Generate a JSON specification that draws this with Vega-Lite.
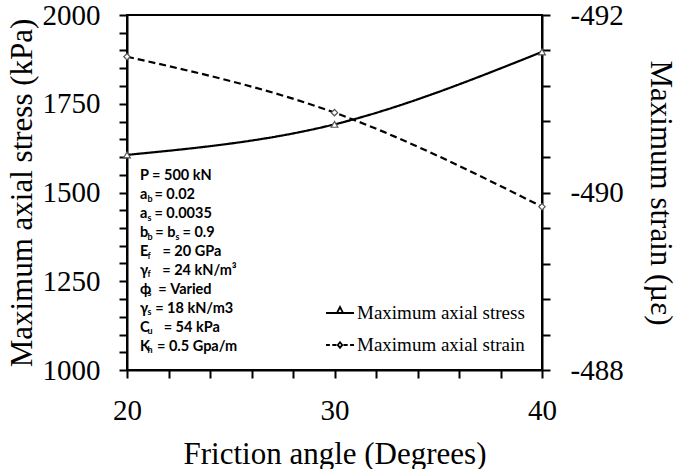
{
  "$schema": "https://vega.github.io/schema/vega-lite/v6.json",
  "width": 415,
  "height": 355,
  "autosize": {"type": "none"},
  "padding": {"left": 127, "top": 15, "right": 138, "bottom": 99},
  "background": "white",
  "config": {
    "view": {"stroke": "black", "strokeWidth": 2},
    "axis": {
      "grid": false,
      "domainColor": "black",
      "domainWidth": 2,
      "tickColor": "black",
      "tickWidth": 2,
      "tickSize": 8,
      "labelFont": "Liberation Serif",
      "labelFontSize": 29,
      "labelColor": "black",
      "labelFlush": false,
      "labelOverlap": false,
      "titleFont": "Liberation Serif",
      "titleFontSize": 31,
      "titleFontWeight": "normal",
      "titleColor": "black"
    }
  },
  "data": {
    "values": [
      {"angle": 20, "series": "Maximum axial stress", "value": 1606},
      {"angle": 30, "series": "Maximum axial stress", "value": 1692},
      {"angle": 40, "series": "Maximum axial stress", "value": 1896},
      {"angle": 20, "series": "Maximum axial strain", "value": -491.53},
      {"angle": 30, "series": "Maximum axial strain", "value": -490.9},
      {"angle": 40, "series": "Maximum axial strain", "value": -489.84}
    ]
  },
  "layer": [
    {
      "layer": [
        {
          "transform": [{"filter": "datum.series === 'Maximum axial stress'"}],
          "mark": {"type": "line", "interpolate": "monotone", "stroke": "black", "strokeWidth": 2.2},
          "encoding": {
            "x": {
              "field": "angle", "type": "quantitative", "title": "Friction angle (Degrees)",
              "scale": {"domain": [20, 40], "nice": false, "zero": false},
              "axis": {"values": [20, 22, 24, 26, 28, 30, 32, 34, 36, 38, 40], "labelExpr": "datum.value % 10 === 0 ? datum.label : ''", "labelPadding": 18, "titlePadding": 14}
            },
            "y": {
              "field": "value", "type": "quantitative", "title": "Maximum axial stress (kPa)",
              "scale": {"domain": [1000, 2000], "nice": false, "zero": false},
              "axis": {"orient": "left", "format": "d", "values": [1000, 1050, 1100, 1150, 1200, 1250, 1300, 1350, 1400, 1450, 1500, 1550, 1600, 1650, 1700, 1750, 1800, 1850, 1900, 1950, 2000], "labelExpr": "datum.value % 250 === 0 ? datum.label : ''", "labelPadding": 19, "titlePadding": 4}
            },
            "strokeDash": {
              "field": "series", "type": "nominal",
              "scale": {"domain": ["Maximum axial stress", "Maximum axial strain"], "range": [[1, 0], [1, 0]]},
              "legend": {
                "orient": "none", "legendX": 198, "legendY": 283, "title": null,
                "symbolSize": 784, "symbolStrokeWidth": 1.8, "symbolStrokeColor": "black", "symbolFillColor": "white",
                "symbolType": {"expr": "datum.value === 'Maximum axial stress' ? 'M-1,0H1M0,-0.43L0.22,0L-0.22,0Z' : 'M-1,0H-0.72M-0.55,0H-0.25M0.25,0H0.55M0.72,0H1M0,-0.2L0.16,0L0,0.2L-0.16,0Z'"},
                "labelFont": "Liberation Serif", "labelFontSize": 19,
                "labelColor": "black", "labelOffset": 2, "rowPadding": 7, "padding": 0, "labelLimit": 400
              }
            }
          }
        },
        {
          "transform": [{"filter": "datum.series === 'Maximum axial stress'"}],
          "mark": {"type": "point", "shape": "triangle-up", "filled": true, "fill": "white", "stroke": "#555555", "strokeWidth": 1.2, "size": 45, "opacity": 1},
          "encoding": {
            "x": {
              "field": "angle", "type": "quantitative", "title": "Friction angle (Degrees)",
              "scale": {"domain": [20, 40], "nice": false, "zero": false},
              "axis": {"values": [20, 22, 24, 26, 28, 30, 32, 34, 36, 38, 40], "labelExpr": "datum.value % 10 === 0 ? datum.label : ''", "labelPadding": 18, "titlePadding": 14}
            },
            "y": {
              "field": "value", "type": "quantitative", "title": "Maximum axial stress (kPa)",
              "scale": {"domain": [1000, 2000], "nice": false, "zero": false},
              "axis": {"orient": "left", "format": "d", "values": [1000, 1050, 1100, 1150, 1200, 1250, 1300, 1350, 1400, 1450, 1500, 1550, 1600, 1650, 1700, 1750, 1800, 1850, 1900, 1950, 2000], "labelExpr": "datum.value % 250 === 0 ? datum.label : ''", "labelPadding": 19, "titlePadding": 4}
            }
          }
        },
        {
          "data": {"values": [{}]},
          "mark": {
            "type": "text", "font": "Lato", "fontWeight": "bold", "fontSize": 14.5, "lineHeight": 18.9,
            "align": "left", "baseline": "alphabetic", "dx": 13, "color": "black",
            "text": ["P = 500 kN", "a\u00a0 = 0.02", "a\u00a0 = 0.0035", "b\u00a0 = b\u00a0 = 0.9", "E\u00a0\u00a0\u00a0 = 20 GPa", "γ\u00a0\u00a0\u00a0 = 24 kN/m³", "ϕ\u00a0 = Varied", "γ\u00a0 = 18 kN/m3", "C\u00a0\u00a0\u00a0 = 54 kPa", "K\u00a0 = 0.5 Gpa/m"]
          },
          "encoding": {
            "x": {
              "datum": 20, "type": "quantitative", "title": "Friction angle (Degrees)",
              "scale": {"domain": [20, 40], "nice": false, "zero": false},
              "axis": {"values": [20, 22, 24, 26, 28, 30, 32, 34, 36, 38, 40], "labelExpr": "datum.value % 10 === 0 ? datum.label : ''", "labelPadding": 18, "titlePadding": 14}
            },
            "y": {
              "datum": 1534, "type": "quantitative", "title": "Maximum axial stress (kPa)",
              "scale": {"domain": [1000, 2000], "nice": false, "zero": false},
              "axis": {"orient": "left", "format": "d", "values": [1000, 1050, 1100, 1150, 1200, 1250, 1300, 1350, 1400, 1450, 1500, 1550, 1600, 1650, 1700, 1750, 1800, 1850, 1900, 1950, 2000], "labelExpr": "datum.value % 250 === 0 ? datum.label : ''", "labelPadding": 19, "titlePadding": 4}
            }
          }
        },
        {
          "data": {"values": [{}]},
          "mark": {
            "type": "text", "font": "Lato", "fontWeight": "bold", "fontSize": 9, "lineHeight": 18.9,
            "align": "left", "baseline": "alphabetic", "dx": 20.5, "dy": 2.5, "color": "black",
            "text": ["\u00a0", "b", "s", "b", "f", "f", "s", "s", "u", "h"]
          },
          "encoding": {
            "x": {
              "datum": 20, "type": "quantitative", "title": "Friction angle (Degrees)",
              "scale": {"domain": [20, 40], "nice": false, "zero": false},
              "axis": {"values": [20, 22, 24, 26, 28, 30, 32, 34, 36, 38, 40], "labelExpr": "datum.value % 10 === 0 ? datum.label : ''", "labelPadding": 18, "titlePadding": 14}
            },
            "y": {
              "datum": 1534, "type": "quantitative", "title": "Maximum axial stress (kPa)",
              "scale": {"domain": [1000, 2000], "nice": false, "zero": false},
              "axis": {"orient": "left", "format": "d", "values": [1000, 1050, 1100, 1150, 1200, 1250, 1300, 1350, 1400, 1450, 1500, 1550, 1600, 1650, 1700, 1750, 1800, 1850, 1900, 1950, 2000], "labelExpr": "datum.value % 250 === 0 ? datum.label : ''", "labelPadding": 19, "titlePadding": 4}
            }
          }
        },
        {
          "data": {"values": [{}]},
          "mark": {
            "type": "text", "font": "Lato", "fontWeight": "bold", "fontSize": 9,
            "align": "left", "baseline": "alphabetic", "dx": 48.5, "dy": 2.5, "color": "black",
            "text": "s"
          },
          "encoding": {
            "x": {
              "datum": 20, "type": "quantitative", "title": "Friction angle (Degrees)",
              "scale": {"domain": [20, 40], "nice": false, "zero": false},
              "axis": {"values": [20, 22, 24, 26, 28, 30, 32, 34, 36, 38, 40], "labelExpr": "datum.value % 10 === 0 ? datum.label : ''", "labelPadding": 18, "titlePadding": 14}
            },
            "y": {
              "datum": 1374.3, "type": "quantitative", "title": "Maximum axial stress (kPa)",
              "scale": {"domain": [1000, 2000], "nice": false, "zero": false},
              "axis": {"orient": "left", "format": "d", "values": [1000, 1050, 1100, 1150, 1200, 1250, 1300, 1350, 1400, 1450, 1500, 1550, 1600, 1650, 1700, 1750, 1800, 1850, 1900, 1950, 2000], "labelExpr": "datum.value % 250 === 0 ? datum.label : ''", "labelPadding": 19, "titlePadding": 4}
            }
          }
        }
      ]
    },
    {
      "layer": [
        {
          "transform": [{"filter": "datum.series === 'Maximum axial strain'"}],
          "mark": {"type": "line", "interpolate": "monotone", "stroke": "black", "strokeWidth": 2.2, "strokeDash": [7, 4]},
          "encoding": {
            "x": {
              "field": "angle", "type": "quantitative", "title": "Friction angle (Degrees)",
              "scale": {"domain": [20, 40], "nice": false, "zero": false},
              "axis": {"values": [20, 22, 24, 26, 28, 30, 32, 34, 36, 38, 40], "labelExpr": "datum.value % 10 === 0 ? datum.label : ''", "labelPadding": 18, "titlePadding": 14}
            },
            "y": {
              "field": "value", "type": "quantitative", "title": "Maximum strain (µε)",
              "scale": {"domain": [-492, -488], "reverse": true, "nice": false, "zero": false},
              "axis": {"orient": "right", "values": [-492, -491.6, -491.2, -490.8, -490.4, -490, -489.6, -489.2, -488.8, -488.4, -488], "labelExpr": "abs(datum.value - round(datum.value)) < 0.01 && round(datum.value) % 2 === 0 ? '-' + abs(round(datum.value)) : ''", "labelPadding": 20, "titlePadding": 20}
            }
          }
        },
        {
          "transform": [{"filter": "datum.series === 'Maximum axial strain'"}],
          "mark": {"type": "point", "shape": "diamond", "filled": true, "fill": "white", "stroke": "#555555", "strokeWidth": 1.2, "size": 40, "opacity": 1},
          "encoding": {
            "x": {
              "field": "angle", "type": "quantitative", "title": "Friction angle (Degrees)",
              "scale": {"domain": [20, 40], "nice": false, "zero": false},
              "axis": {"values": [20, 22, 24, 26, 28, 30, 32, 34, 36, 38, 40], "labelExpr": "datum.value % 10 === 0 ? datum.label : ''", "labelPadding": 18, "titlePadding": 14}
            },
            "y": {
              "field": "value", "type": "quantitative", "title": "Maximum strain (µε)",
              "scale": {"domain": [-492, -488], "reverse": true, "nice": false, "zero": false},
              "axis": {"orient": "right", "values": [-492, -491.6, -491.2, -490.8, -490.4, -490, -489.6, -489.2, -488.8, -488.4, -488], "labelExpr": "abs(datum.value - round(datum.value)) < 0.01 && round(datum.value) % 2 === 0 ? '-' + abs(round(datum.value)) : ''", "labelPadding": 20, "titlePadding": 20}
            }
          }
        }
      ]
    }
  ],
  "resolve": {"scale": {"y": "independent"}, "axis": {"y": "independent"}}
}
